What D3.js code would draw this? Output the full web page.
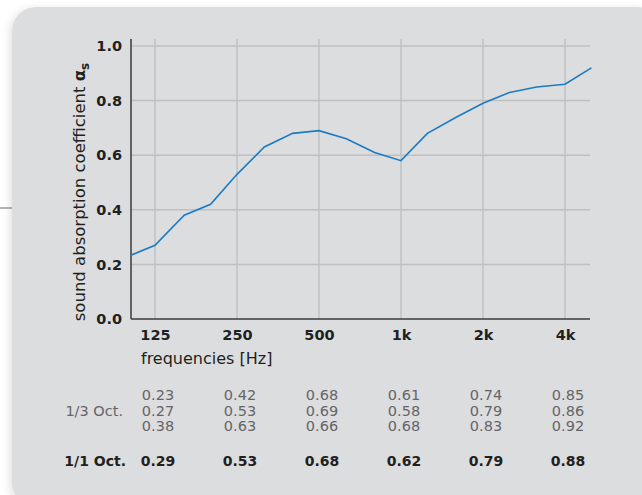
<!DOCTYPE html>
<html>
<head>
<meta charset="utf-8">
<script src="https://cdn.jsdelivr.net/npm/d3@7"></script>
<style>
  body { margin: 0; background: #fff; }
  text { font-family: "DejaVu Sans", "Open Sans", sans-serif; }
</style>
</head>
<body>
<script>
// 1/3 octave band measurements
const freqs  = [100, 125, 160, 200, 250, 315, 400, 500, 630, 800, 1000, 1250, 1600, 2000, 2500, 3150, 4000, 5000];
const alpha  = [0.23, 0.27, 0.38, 0.42, 0.53, 0.63, 0.68, 0.69, 0.66, 0.61, 0.58, 0.68, 0.74, 0.79, 0.83, 0.85, 0.86, 0.92];

// octave bands + 1/1 octave values
const octaveBands  = [125, 250, 500, 1000, 2000, 4000];
const octaveLabels = ["125", "250", "500", "1k", "2k", "4k"];
const octaveValues = [0.29, 0.53, 0.68, 0.62, 0.79, 0.88];

const yTicks = [0.0, 0.2, 0.4, 0.6, 0.8, 1.0];

const xSize = 642;  const ySize = 495;
const plotL = 131, plotR = 590, plotT = 39, plotB = 319;

const svg = d3.select("body")
              .append("svg")
              .attr("width", xSize)
              .attr("height", ySize);

const defs = svg.append("defs");
const shadow = defs.append("filter").attr("id", "shadow")
  .attr("x", "-10%").attr("y", "-10%").attr("width", "120%").attr("height", "120%");
shadow.append("feDropShadow")
  .attr("dx", -2).attr("dy", 2).attr("stdDeviation", 4)
  .attr("flood-color", "#000").attr("flood-opacity", 0.12);

defs.append("clipPath").attr("id", "plotclip")
  .append("rect").attr("x", plotL).attr("y", 0).attr("width", plotR - plotL + 5).attr("height", plotB);

// little grey rule sticking out on the left
svg.append("rect")
  .attr("x", 0).attr("y", 207).attr("width", 14).attr("height", 2)
  .attr("fill", "#b4b4b4");

// panel
svg.append("rect")
  .attr("x", 12).attr("y", 7)
  .attr("width", 650).attr("height", 500)
  .attr("rx", 24)
  .attr("fill", "#dcdddf")
  .attr("filter", "url(#shadow)");

const x = d3.scaleLog().domain([125, 4000]).range([155, 565]);
const y = d3.scaleLinear().domain([0, 1]).range([plotB, 46]);

// grid
svg.append("g")
  .selectAll("line")
  .data(yTicks.slice(1))
  .enter()
  .append("line")
  .attr("x1", plotL).attr("x2", plotR)
  .attr("y1", d => y(d)).attr("y2", d => y(d))
  .attr("stroke", "#bfc0c2").attr("stroke-width", 1.5);

svg.append("g")
  .selectAll("line")
  .data(octaveBands)
  .enter()
  .append("line")
  .attr("x1", d => x(d)).attr("x2", d => x(d))
  .attr("y1", plotT).attr("y2", plotB)
  .attr("stroke", "#bfc0c2").attr("stroke-width", 1.5);

// axes
const yAxis = svg.append("g")
  .attr("transform", "translate(" + plotL + ",0)")
  .call(d3.axisLeft(y).tickValues(yTicks).tickFormat(d3.format(".1f")).tickSize(0).tickPadding(9));
yAxis.select(".domain").remove();
yAxis.selectAll("text")
  .attr("font-size", 14.5).attr("font-weight", "bold").attr("fill", "#231f20")
  .attr("font-family", "'DejaVu Sans', sans-serif");

const xAxis = svg.append("g")
  .attr("transform", "translate(0," + plotB + ")")
  .call(d3.axisBottom(x).tickValues(octaveBands).tickFormat((d, i) => octaveLabels[i]).tickSize(0).tickPadding(11));
xAxis.select(".domain").remove();
xAxis.selectAll("text")
  .attr("font-size", 14.5).attr("font-weight", "bold").attr("fill", "#231f20")
  .attr("font-family", "'DejaVu Sans', sans-serif");

svg.append("line")
  .attr("x1", plotL).attr("x2", plotL).attr("y1", plotT).attr("y2", plotB)
  .attr("stroke", "#3a3a3a").attr("stroke-width", 1.5);
svg.append("line")
  .attr("x1", plotL).attr("x2", plotR).attr("y1", plotB).attr("y2", plotB)
  .attr("stroke", "#3a3a3a").attr("stroke-width", 1.5);

// data line
const line = d3.line()
  .x((d, i) => x(freqs[i]))
  .y(d => y(d));

svg.append("path")
  .datum(alpha)
  .attr("clip-path", "url(#plotclip)")
  .attr("fill", "none")
  .attr("stroke", "#1b7bc2")
  .attr("stroke-width", 1.6)
  .attr("d", line);

// axis titles
const yTitle = svg.append("text")
  .attr("transform", "translate(85,192) rotate(-90)")
  .attr("text-anchor", "middle")
  .attr("font-size", 16.5)
  .attr("fill", "#231f20");
yTitle.append("tspan").text("sound absorption coefficient ");
yTitle.append("tspan").attr("font-weight", "bold").text("α");
yTitle.append("tspan").attr("font-weight", "bold").attr("font-size", 12).attr("dy", 4).text("s");

svg.append("text")
  .attr("x", 141).attr("y", 364)
  .attr("font-size", 16)
  .attr("fill", "#231f20")
  .text("frequencies [Hz]");

// table of values, three 1/3-octave values per octave column
const rowY = [400, 415.5, 431];
const cols = svg.append("g")
  .selectAll("g")
  .data(octaveBands)
  .enter()
  .append("g")
  .attr("transform", d => "translate(" + x(d) + ",0)");

cols.selectAll("text.third")
  .data((d, i) => alpha.slice(i * 3, i * 3 + 3))
  .enter()
  .append("text")
  .attr("class", "third")
  .attr("x", 3)
  .attr("y", (d, j) => rowY[j])
  .attr("text-anchor", "middle")
  .attr("font-size", 14.5)
  .attr("fill", "#656568")
  .text(d => d3.format(".2f")(d));

cols.append("text")
  .attr("x", 3)
  .attr("y", 466)
  .attr("text-anchor", "middle")
  .attr("font-size", 14)
  .attr("font-weight", "bold")
  .attr("fill", "#231f20")
  .text((d, i) => d3.format(".2f")(octaveValues[i]));

svg.append("text")
  .attr("x", 123).attr("y", rowY[1])
  .attr("text-anchor", "end")
  .attr("font-size", 14.5)
  .attr("fill", "#656568")
  .text("1/3 Oct.");

svg.append("text")
  .attr("x", 126).attr("y", 466)
  .attr("text-anchor", "end")
  .attr("font-size", 14)
  .attr("font-weight", "bold")
  .attr("fill", "#231f20")
  .text("1/1 Oct.");
</script>
</body>
</html>
